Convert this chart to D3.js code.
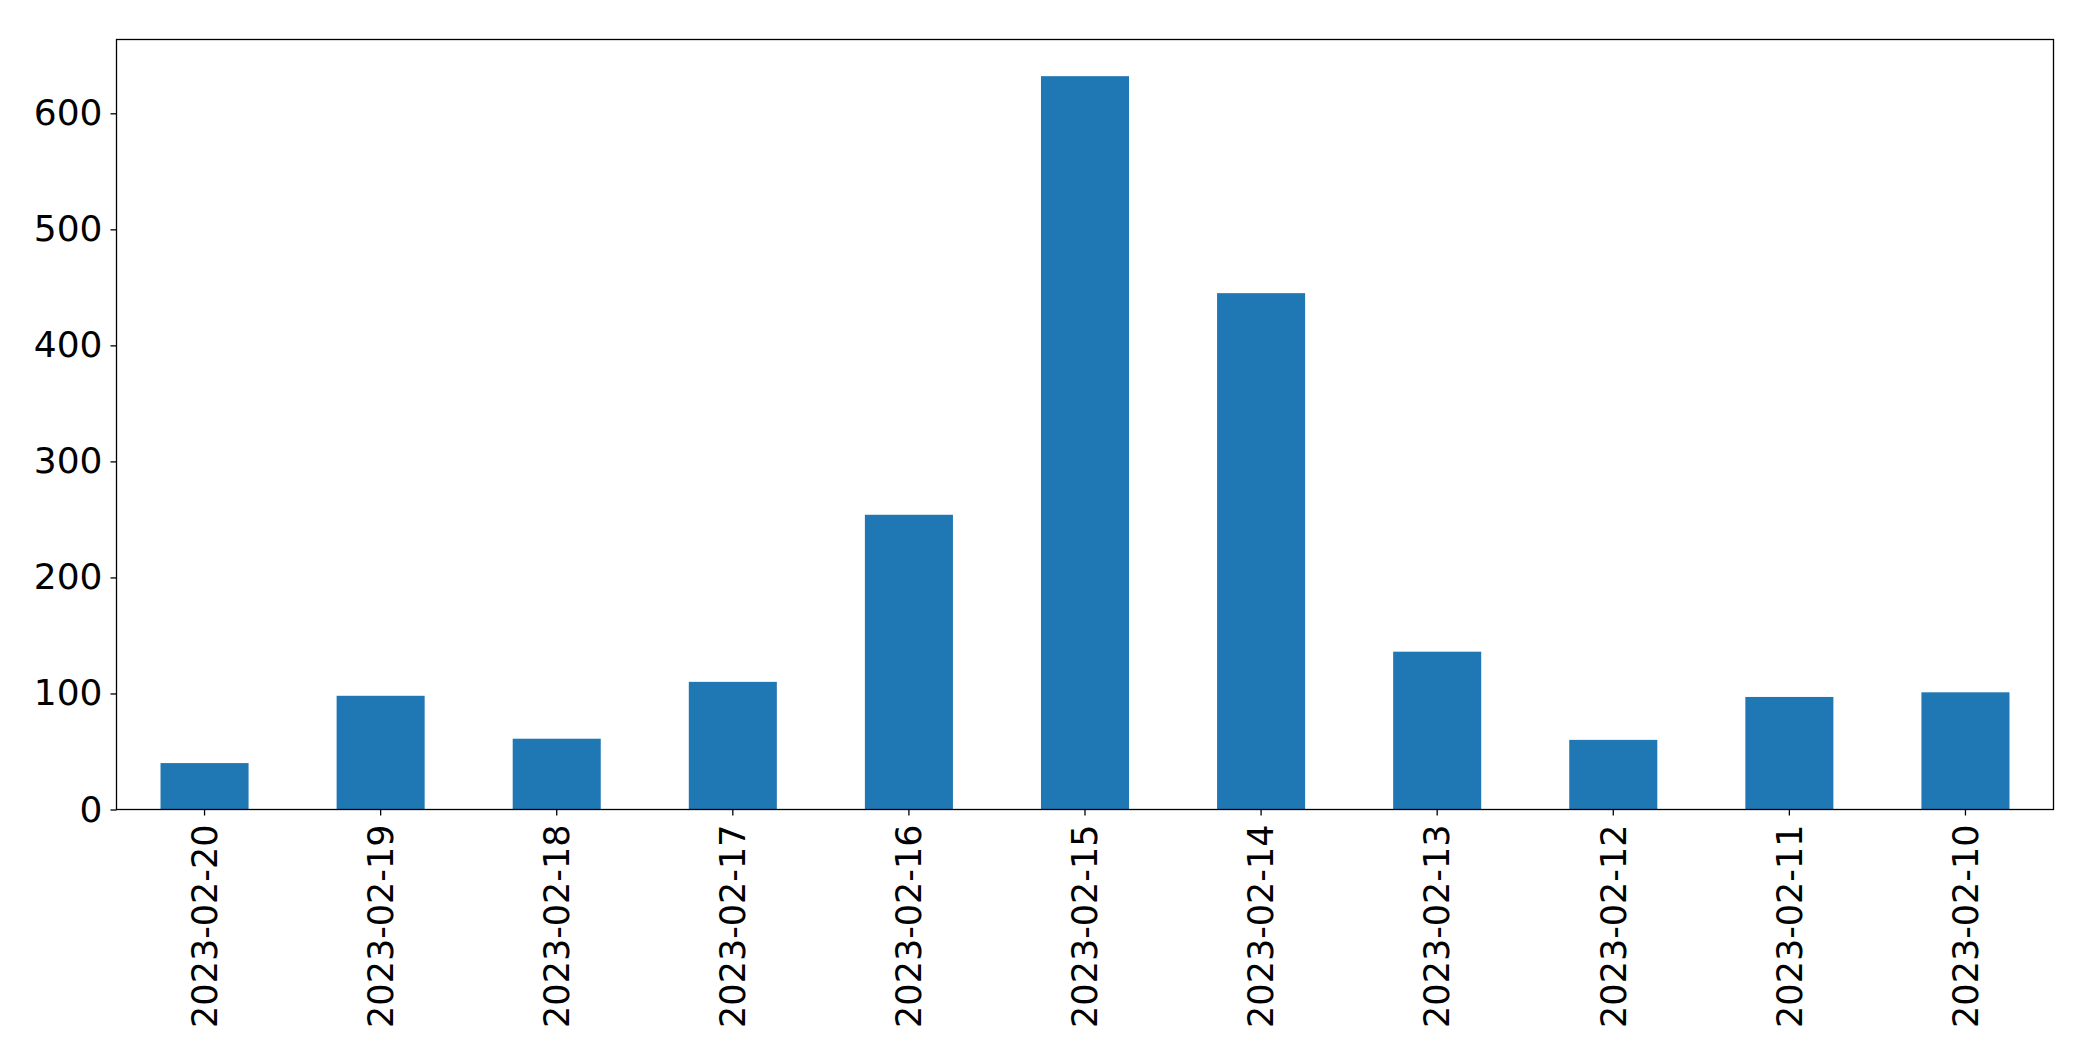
<!DOCTYPE html>
<html>
<head>
<meta charset="utf-8">
<script src="https://cdn.jsdelivr.net/npm/d3@7"></script>
<style>
  html, body { margin: 0; padding: 0; background: #fff; }
  svg text { font-family: "DejaVu Sans", sans-serif; }
</style>
</head>
<body>
<svg id="chart" width="2093" height="1061"></svg>
<script>
const categories = ["2023-02-20","2023-02-19","2023-02-18","2023-02-17","2023-02-16","2023-02-15","2023-02-14","2023-02-13","2023-02-12","2023-02-11","2023-02-10"];
const values = [40, 98, 61, 110, 254, 632, 445, 136, 60, 97, 101];
const yTicks = [0, 100, 200, 300, 400, 500, 600];

const W = 2093, H = 1061;
const m = { left: 116.5, top: 39.5, right: W - 2053.5, bottom: H - 809.5 };
const svg = d3.select("#chart");

const x = d3.scaleBand().domain(categories).range([m.left, W - m.right]).paddingInner(0.5).paddingOuter(0.25);
const y = d3.scaleLinear().domain([0, d3.max(values) * 1.05]).range([H - m.bottom, m.top]);

svg.append("g").selectAll("rect").data(categories).join("rect")
  .attr("x", d => x(d))
  .attr("width", x.bandwidth())
  .attr("y", (d, i) => y(values[i]))
  .attr("height", (d, i) => y(0) - y(values[i]))
  .attr("fill", "#1f77b4");

const xAxis = svg.append("g").attr("transform", `translate(0,${H - m.bottom})`)
  .call(d3.axisBottom(x).tickSize(6).tickSizeOuter(0));
xAxis.select(".domain").remove();
xAxis.selectAll("line").attr("stroke", "#000").attr("stroke-width", 1.3);
xAxis.selectAll("text")
  .attr("font-size", 35).attr("fill", "#000")
  .attr("transform", "rotate(-90)")
  .attr("text-anchor", "end")
  .attr("x", -15).attr("y", 0).attr("dy", "0.35em");

const yAxis = svg.append("g").attr("transform", `translate(${m.left},0)`)
  .call(d3.axisLeft(y).tickValues(yTicks).tickSize(6).tickSizeOuter(0).tickPadding(8));
yAxis.select(".domain").remove();
yAxis.selectAll("line").attr("stroke", "#000").attr("stroke-width", 1.3);
yAxis.selectAll("text").attr("font-size", 36).attr("fill", "#000");

svg.append("rect")
  .attr("x", m.left).attr("y", m.top)
  .attr("width", W - m.left - m.right).attr("height", H - m.top - m.bottom)
  .attr("fill", "none").attr("stroke", "#000").attr("stroke-width", 1.3);
</script>
</body>
</html>
